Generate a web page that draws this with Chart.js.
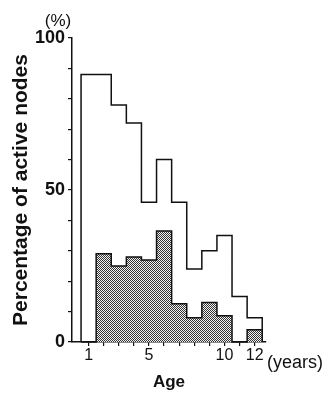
<!DOCTYPE html>
<html>
<head>
<meta charset="utf-8">
<script src="https://cdn.jsdelivr.net/npm/chart.js@4/dist/chart.umd.min.js"></script>
<style>
  html, body { margin: 0; padding: 0; background: #fff; }
  #wrap { width: 331px; height: 405px; position: relative; }
</style>
</head>
<body>
<div id="wrap"><canvas id="c" width="331" height="405"></canvas></div>
<script>
// ---- data ----
const ages = [1, 2, 3, 4, 5, 6, 7, 8, 9, 10, 11, 12];
const allActive = [88, 88, 78, 72, 46, 60, 46, 24, 30, 35, 15, 8];      // outline histogram (%)
const shadedActive = [0, 29, 25, 28, 27, 36.5, 12.6, 8, 13, 8.6, 0, 4]; // stippled histogram (%)
const xTickLabels = [1, 5, 10, 12];
const yTickLabels = [0, 50, 100];

// step points at the left edge of each bin, closing at the right edge
function stepPoints(vals) {
  const pts = [{ x: ages[0] - 0.5, y: 0 }];
  ages.forEach((a, i) => pts.push({ x: a - 0.5, y: vals[i] }));
  pts.push({ x: ages[ages.length - 1] + 0.5, y: 0 });
  return pts;
}

// stipple pattern
const pc = document.createElement('canvas');
pc.width = 2; pc.height = 2;
const pctx = pc.getContext('2d');
pctx.fillStyle = '#f4f4f4'; pctx.fillRect(0, 0, 2, 2);
pctx.fillStyle = '#333333'; pctx.fillRect(0, 0, 1, 1); pctx.fillRect(1, 1, 1, 1);
const stipple = pctx.createPattern(pc, 'repeat');

const FONT = "'Liberation Sans', Arial, Helvetica, sans-serif";
const INK = '#111';

const extraText = {
  id: 'extraText',
  afterDraw(chart) {
    const ctx = chart.ctx;
    const ca = chart.chartArea;
    ctx.save();
    ctx.fillStyle = INK;
    ctx.textBaseline = 'middle';
    ctx.textAlign = 'center';
    ctx.font = "17px " + FONT;
    ctx.fillText('(%)', ca.left - 14, ca.top - 17);
    ctx.textAlign = 'left';
    ctx.font = "18px " + FONT;
    ctx.fillText('(years)', ca.right + 1, ca.bottom + 21);
    ctx.restore();
  }
};

new Chart(document.getElementById('c'), {
  type: 'line',
  data: {
    datasets: [
      {
        label: 'active (stippled)',
        data: stepPoints(shadedActive),
        stepped: 'before',
        borderColor: INK,
        borderWidth: 1.5,
        backgroundColor: stipple,
        fill: 'origin',
        pointRadius: 0,
        clip: 6
      },
      {
        label: 'active (all)',
        data: stepPoints(allActive),
        stepped: 'before',
        borderColor: INK,
        borderWidth: 1.5,
        fill: false,
        pointRadius: 0,
        clip: 6
      }
    ]
  },
  options: {
    responsive: false,
    animation: false,
    events: [],
    layout: { padding: { top: 38, right: 65, left: 0, bottom: 0 } },
    plugins: { legend: { display: false }, tooltip: { enabled: false } },
    scales: {
      x: {
        type: 'linear',
        min: -0.1,
        max: 12.75,
        afterBuildTicks: (axis) => { axis.ticks = ages.map(v => ({ value: v })); },
        afterFit: (axis) => { axis.height = 63; },
        border: { display: true, color: INK, width: 1.5 },
        grid: { drawOnChartArea: false, drawTicks: true, tickLength: 4, color: INK, lineWidth: 1.2 },
        ticks: {
          autoSkip: false, maxRotation: 0, padding: 0,
          color: INK,
          font: { family: FONT, size: 16 },
          callback: (v) => xTickLabels.includes(v) ? String(v) : ''
        },
        title: {
          display: true, text: 'Age', color: INK,
          font: { family: FONT, size: 17, weight: 'bold' },
          padding: { top: 0, bottom: 12 }
        }
      },
      y: {
        min: 0, max: 100,
        afterFit: (axis) => { axis.width = 72; },
        border: { display: true, color: INK, width: 1.5 },
        grid: { drawOnChartArea: false, drawTicks: true, tickLength: 4, color: INK, lineWidth: 1.2 },
        ticks: {
          stepSize: 10, padding: 3, color: INK,
          font: { family: FONT, size: 18, weight: 'bold' },
          callback: (v) => yTickLabels.includes(v) ? String(v) : ''
        },
        title: {
          display: true, text: 'Percentage of active nodes', color: INK,
          font: { family: FONT, size: 21, weight: 'bold' },
          padding: { top: 9, bottom: 0 }
        }
      }
    }
  },
  plugins: [extraText]
});
</script>
</body>
</html>
